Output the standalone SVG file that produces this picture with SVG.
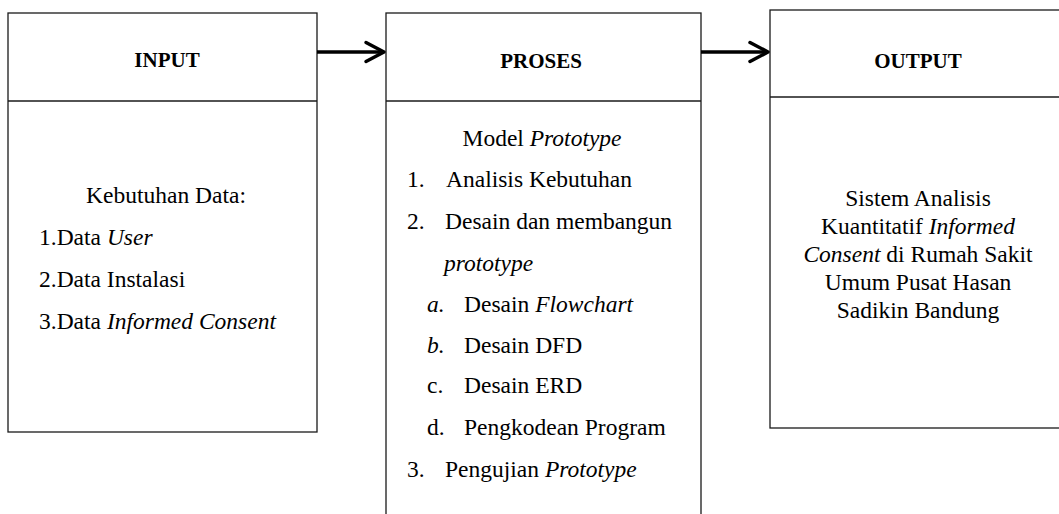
<svg xmlns="http://www.w3.org/2000/svg" width="1059" height="514" viewBox="0 0 1059 514">
  <style>
    .box { fill: #ffffff; stroke: #1a1a1a; stroke-width: 1.3; }
    .div { stroke: #1a1a1a; stroke-width: 1.3; }
    .hdr { font-family: "Liberation Serif", "Times New Roman", serif; font-weight: bold; font-size: 21px; fill: #000; text-anchor: middle; }
    .t { font-family: "Liberation Serif", "Times New Roman", serif; font-size: 23.5px; fill: #000; }
    .c { text-anchor: middle; }
    .i { font-style: italic; }
    .conn { stroke: #000; stroke-width: 3.5; fill: none; }
  </style>
  <defs>
    <marker id="arrow" markerUnits="userSpaceOnUse" markerWidth="26" markerHeight="26" viewBox="-23 -13 26 26" refX="0" refY="0" orient="auto">
      <path d="M-18,-9.5 L0,0 L-18,9.5" fill="none" stroke="#000" stroke-width="3.5" stroke-linecap="round" stroke-linejoin="round"/>
    </marker>
  </defs>

  <rect width="1059" height="514" fill="#ffffff"/>

  <g id="input">
    <rect class="box" x="8" y="13" width="309" height="419"/>
    <line class="div" x1="8" y1="101" x2="317" y2="101"/>
    <text class="hdr" x="167" y="67">INPUT</text>
    <text class="t c" x="166" y="203">Kebutuhan Data:</text>
    <text class="t" x="39" y="245">1.Data <tspan class="i">User</tspan></text>
    <text class="t" x="39" y="287">2.Data Instalasi</text>
    <text class="t" x="39" y="329">3.Data <tspan class="i">Informed Consent</tspan></text>
  </g>

  <g id="proses">
    <rect class="box" x="386" y="13" width="315" height="520"/>
    <line class="div" x1="386" y1="101" x2="701" y2="101"/>
    <text class="hdr" x="541" y="68">PROSES</text>
    <text class="t c" x="542" y="146">Model <tspan class="i">Prototype</tspan></text>
    <text class="t" x="407" y="187">1.</text>
    <text class="t" x="446" y="187">Analisis Kebutuhan</text>
    <text class="t" x="407" y="229">2.</text>
    <text class="t" x="445" y="229">Desain dan membangun</text>
    <text class="t i" x="444" y="271">prototype</text>
    <text class="t i" x="427" y="312">a.</text>
    <text class="t" x="464" y="312">Desain <tspan class="i">Flowchart</tspan></text>
    <text class="t i" x="427" y="353">b.</text>
    <text class="t" x="464" y="353">Desain DFD</text>
    <text class="t" x="427" y="393">c.</text>
    <text class="t" x="464" y="393">Desain ERD</text>
    <text class="t" x="427" y="435">d.</text>
    <text class="t" x="464" y="435">Pengkodean Program</text>
    <text class="t" x="407" y="477">3.</text>
    <text class="t" x="445" y="477">Pengujian <tspan class="i">Prototype</tspan></text>
  </g>

  <g id="output">
    <rect class="box" x="770" y="10" width="300" height="418"/>
    <line class="div" x1="770" y1="97" x2="1070" y2="97"/>
    <text class="hdr" x="918" y="68">OUTPUT</text>
    <text class="t c" x="918" y="206">Sistem Analisis</text>
    <text class="t c" x="918" y="234">Kuantitatif <tspan class="i">Informed</tspan></text>
    <text class="t c" x="918" y="262"><tspan class="i">Consent</tspan> di Rumah Sakit</text>
    <text class="t c" x="918" y="290">Umum Pusat Hasan</text>
    <text class="t c" x="918" y="318">Sadikin Bandung</text>
  </g>

  <g id="connectors">
    <path class="conn" d="M317,52 L384,52" marker-end="url(#arrow)"/>
    <path class="conn" d="M701,52 L768,52" marker-end="url(#arrow)"/>
  </g>
</svg>
